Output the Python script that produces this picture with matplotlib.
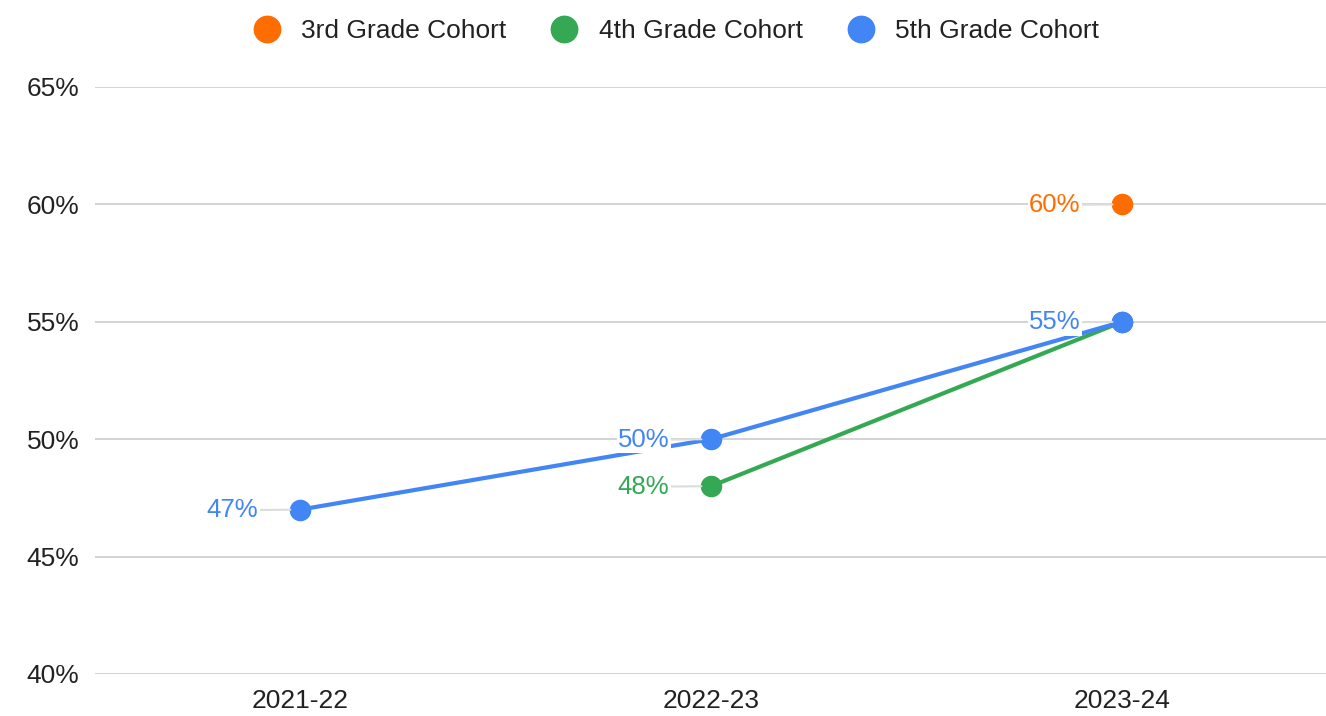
import matplotlib.pyplot as plt
from matplotlib.lines import Line2D

plt.rcParams['font.family'] = ['Liberation Sans', 'DejaVu Sans']

years = ['2021-22', '2022-23', '2023-24']
series_names = ['3rd Grade Cohort', '4th Grade Cohort', '5th Grade Cohort']
# None = no value for that year
grade3 = [None, None, 60]
grade4 = [None, 48, 55]
grade5 = [47, 50, 55]
colors = ['#ff6d01', '#34a853', '#4285f4']
# which points get a data label (the 4th grade 55% sits under the 5th grade one)
show_label = [[False, False, True], [False, True, False], [True, True, True]]

fig = plt.figure(figsize=(13.26, 7.16), dpi=100)
ax = fig.add_axes([0.0713, 0.0587, 0.930, 0.8198])

x_pos = [i + 0.5 for i in range(len(years))]
for name, vals, col, labs in zip(series_names, [grade3, grade4, grade5], colors, show_label):
    xs = [x for x, v in zip(x_pos, vals) if v is not None]
    ys = [v for v in vals if v is not None]
    ax.plot(xs, ys, color=col, lw=3, marker='o', markersize=14.5, zorder=3,
            solid_capstyle='round')
    for x, v, lab in zip(x_pos, vals, labs):
        if v is None or not lab:
            continue
        ax.annotate(f'{v}%', xy=(x, v), xytext=(-30, -0.5), textcoords='offset points',
                    ha='right', va='center', fontsize=18.5, color=col, zorder=4,
                    bbox=dict(boxstyle='square,pad=0.05', fc='white', ec='none'),
                    arrowprops=dict(arrowstyle='-', color='#dddddd', lw=1.5,
                                    shrinkA=0, shrinkB=7))

ax.set_xlim(0, 3)
ax.set_ylim(40, 65)
ax.set_yticks(range(40, 66, 5))
ax.set_yticklabels([f'{t}%' for t in range(40, 66, 5)])
ax.set_xticks(x_pos)
ax.set_xticklabels(years)
ax.grid(axis='y', color='#cccccc', lw=1.2)
ax.set_axisbelow(True)
for s in ax.spines.values():
    s.set_visible(False)
ax.tick_params(length=0, labelsize=19, colors='#222222')
ax.tick_params(axis='y', pad=11)
ax.tick_params(axis='x', pad=11)

handles = [Line2D([], [], ls='none', marker='o', markersize=19, color=c) for c in colors]
fig.legend(handles, series_names, loc='upper center', bbox_to_anchor=(0.505, 1.007), ncol=3,
           frameon=False, fontsize=19, handletextpad=0.3, columnspacing=1.2,
           labelcolor='#222222')

fig.savefig('out.png', dpi=100)
